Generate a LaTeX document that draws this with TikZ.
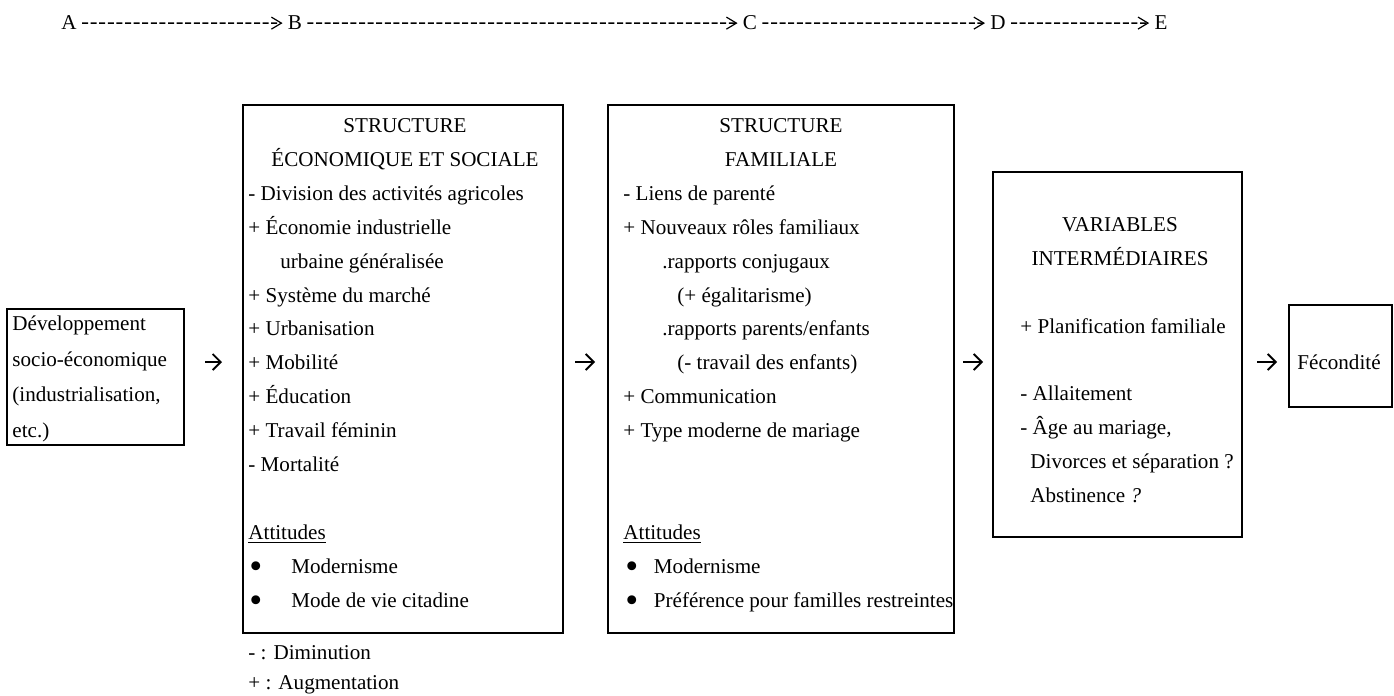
\documentclass[tikz,border=0pt]{standalone}
\usepackage{fontspec}
\setmainfont{Liberation Serif}
\usetikzlibrary{arrows.meta,positioning,fit}

\newcommand{\bigdot}{\raisebox{-2.6pt}{\fontsize{18.5pt}{18.5pt}\selectfont\textbullet}}

\begin{document}
\begin{tikzpicture}[x=0.5pt,y=-0.5pt,
  font=\fontsize{10.55pt}{17pt}\selectfont,
  frame/.style={draw,line width=0.9pt,inner sep=0pt,outer sep=0pt},
  entry/.style={anchor=base west,inner sep=0pt},
  heading/.style={anchor=base,inner sep=0pt},
  stage/.style={anchor=base,inner sep=2.5pt},
  lead/.style={line width=0.75pt,dash pattern=on 3pt off 1.3pt,
    -{Straight Barb[length=5pt,width=6pt,line width=0.6pt]}},
  flow/.style={line width=0.9pt,-{Straight Barb[length=4pt,width=8pt]}}]
  \useasboundingbox (0,0) rectangle (1394,696);

  \foreach \x/\s in {69/A,295/B,750/C,998/D,1161/E}
    \node[stage] (\s) at (\x,30) {\s};
  \draw[lead] (A) -- (B);
  \draw[lead] (B) -- (C);
  \draw[lead] (C) -- (D);
  \draw[lead] (D) -- (E);

  \node[frame,fit={(7,309) (184,445)}] (b1) {};
  \node[frame,fit={(243,105) (563,633)}] (b2) {};
  \node[frame,fit={(608,105) (954,633)}] (b3) {};
  \node[frame,fit={(993,172) (1242,537)}] (b4) {};
  \node[frame,fit={(1289,305) (1392,407)}] (b5) {};

  \coordinate (row) at (0,362);
  \draw[flow,shorten <=10.5pt,shorten >=10.5pt] (b1.east |- row) -- (b2.west |- row);
  \draw[flow,shorten <=6pt,shorten >=6.5pt] (b2.east |- row) -- (b3.west |- row);
  \draw[flow,shorten <=4.5pt,shorten >=5pt] (b3.east |- row) -- (b4.west |- row);
  \draw[flow,shorten <=7.5pt,shorten >=6pt] (b4.east |- row) -- (b5.west |- row);

  \foreach \x/\y/\t [count=\i] in {405/132/STRUCTURE,405/166/ÉCONOMIQUE ET SOCIALE,
      781/132/STRUCTURE,781/166/FAMILIALE,1120/231/VARIABLES,1120/265/INTERMÉDIAIRES}
    \node[heading] (h\i) at (\x,\y) {\t};

  \foreach \x/\y/\t [count=\i] in {12/330/Développement,12/366/socio-économique,
      12/401/{(industrialisation,},12/437/{etc.)}}
    \node[entry] (d\i) at (\x,\y) {\t};

  \foreach \x/\y/\t [count=\i] in {248/200/{- Division des activités agricoles},
      248/234/{+ Économie industrielle},280/268/{urbaine généralisée},
      248/302/{+ Système du marché},248/335/{+ Urbanisation},248/369/{+ Mobilité},
      248/403/{+ Éducation},248/437/{+ Travail féminin},248/471/{- Mortalité},
      248/539/{\underline{Attitudes}},
      249/573/{\bigdot\hspace{14.5pt}Modernisme},
      249/607/{\bigdot\hspace{14.5pt}Mode de vie citadine},
      248/659/{- : Diminution},248/689/{+ : Augmentation}}
    \node[entry] (e\i) at (\x,\y) {\t};

  \foreach \x/\y/\t [count=\i] in {623/200/{- Liens de parenté},
      623/234/{+ Nouveaux rôles familiaux},662/268/{.rapports conjugaux},
      677/302/{(+ égalitarisme)},662/335/{.rapports parents/enfants},
      677/369/{(- travail des enfants)},623/403/{+ Communication},
      623/437/{+ Type moderne de mariage},623/539/{\underline{Attitudes}},
      625/573/{\bigdot\hspace{7.8pt}Modernisme},
      625/607/{\bigdot\hspace{7.8pt}Préférence pour familles restreintes}}
    \node[entry] (f\i) at (\x,\y) {\t};

  \foreach \x/\y/\t [count=\i] in {1020/333/{+ Planification familiale},
      1020/400/{- Allaitement},1020/434/{- Âge au mariage,},
      1030/468/{Divorces et séparation ?},1030/502/{Abstinence \textit{?}}}
    \node[entry] (v\i) at (\x,\y) {\t};

  \node[entry] (fe) at (1297,369) {Fécondité};
\end{tikzpicture}
\end{document}
